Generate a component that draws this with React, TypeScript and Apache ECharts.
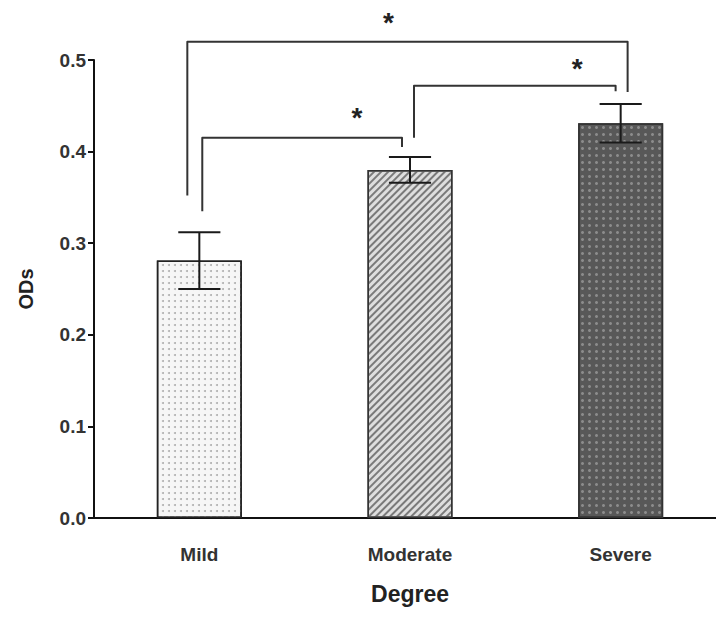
import React, { useEffect, useRef } from "react";
import * as echarts from "echarts";

const categories = ["Mild", "Moderate", "Severe"];
const means = [0.281, 0.38, 0.431];
const sems = [0.031, 0.014, 0.021];
const yMin = 0;
const yMax = 0.5;
const yInterval = 0.1;

// significance brackets: category indices, levels in OD units
const bracketFrom = [0, 0, 1];
const bracketTo = [2, 1, 2];
const bracketLevel = [0.52, 0.415, 0.472];
const bracketLeftEnd = [0.352, 0.335, 0.415];
const bracketRightEnd = [0.465, 0.405, 0.466];
const bracketLeftShift = [-0.057, 0.014, 0.019];
const bracketRightShift = [0.033, -0.038, -0.024];
const starAlong = [0.457, 0.775, 0.81];
const starLevel = [0.541, 0.437, 0.491];
const starText = ["*", "*", "*"];

const FONT = "'Liberation Sans', Arial, sans-serif";

const barStyles = [
  {
    color: "#f6f6f6",
    borderColor: "#222",
    borderWidth: 1.5,
    decal: {
      symbol: "circle",
      symbolSize: 1,
      color: "#b0b0b0",
      dashArrayX: [2, 4],
      dashArrayY: [2, 4],
      rotation: 0,
    },
  },
  {
    color: "#dedede",
    borderColor: "#333",
    borderWidth: 1.5,
    decal: {
      symbol: "rect",
      symbolSize: 1,
      color: "#7a7a7a",
      dashArrayX: [1, 0],
      dashArrayY: [2, 2.5],
      rotation: -Math.PI / 4,
    },
  },
  {
    color: "#585858",
    borderColor: "#333",
    borderWidth: 1.5,
    decal: {
      symbol: "circle",
      symbolSize: 1,
      color: "#8c8c8c",
      dashArrayX: [2.4, 3.6],
      dashArrayY: [2.4, 3.6],
      rotation: 0,
    },
  },
];

export default function App() {
  const ref = useRef<HTMLDivElement>(null);
  useEffect(() => {
    if (!ref.current) return;
    const chart = echarts.init(ref.current, null, { renderer: "svg" });
    const option: any = {
      animation: false,
      backgroundColor: "#ffffff",
      grid: {
        left: 94,
        width: 632,
        top: 60,
        bottom: 117,
        containLabel: false,
        outerBoundsMode: "none",
      },
      xAxis: {
        type: "category",
        data: categories,
        name: "Degree",
        nameLocation: "middle",
        nameGap: 64,
        nameTextStyle: { fontFamily: FONT, fontWeight: "bold", fontSize: 23, color: "#222" },
        axisLine: { lineStyle: { color: "#111", width: 2 } },
        axisTick: { alignWithLabel: true, length: 6, lineStyle: { color: "#111", width: 2 } },
        axisLabel: { fontFamily: FONT, fontWeight: "bold", fontSize: 19, color: "#333", margin: 27 },
        splitLine: { show: false },
      },
      yAxis: {
        type: "value",
        min: yMin,
        max: yMax,
        interval: yInterval,
        name: "ODs",
        nameLocation: "middle",
        nameGap: 58,
        nameTextStyle: { fontFamily: FONT, fontWeight: "bold", fontSize: 20, color: "#222" },
        axisLine: { show: true, lineStyle: { color: "#111", width: 2 } },
        axisTick: { show: true, length: 6, lineStyle: { color: "#111", width: 2 } },
        axisLabel: {
          fontFamily: FONT,
          fontWeight: "bold",
          fontSize: 19,
          color: "#333",
          margin: 8,
          formatter: (v: number) => v.toFixed(1),
        },
        splitLine: { show: false },
      },
      series: [
        {
          type: "bar",
          barWidth: 85,
          data: means.map((m, i) => ({ value: m, itemStyle: barStyles[i] })),
          z: 2,
        },
        {
          type: "custom",
          z: 5,
          clip: false,
          data: means.map((m, i) => [i, m, sems[i]]),
          encode: { x: 0, y: 1 },
          renderItem: (params: any, api: any) => {
            const x = api.value(0);
            const m = api.value(1);
            const e = api.value(2);
            const top = api.coord([x, m + e]);
            const bot = api.coord([x, m - e]);
            const half = api.size([1, 0])[0] * 0.1;
            const st = { stroke: "#1a1a1a", lineWidth: 2 };
            return {
              type: "group",
              children: [
                { type: "line", shape: { x1: top[0], y1: top[1], x2: bot[0], y2: bot[1] }, style: st },
                { type: "line", shape: { x1: top[0] - half, y1: top[1], x2: top[0] + half, y2: top[1] }, style: st },
                { type: "line", shape: { x1: bot[0] - half, y1: bot[1], x2: bot[0] + half, y2: bot[1] }, style: st },
              ],
            };
          },
        },
        {
          type: "custom",
          z: 6,
          clip: false,
          data: bracketFrom.map((f, i) => [f, bracketLevel[i]]),
          encode: { x: 0, y: 1 },
          renderItem: (params: any, api: any) => {
            const i = params.dataIndex;
            const band = api.size([1, 0])[0];
            const xl = api.coord([bracketFrom[i], 0])[0] + bracketLeftShift[i] * band;
            const xr = api.coord([bracketTo[i], 0])[0] + bracketRightShift[i] * band;
            const yl = api.coord([0, bracketLevel[i]])[1];
            const yLeft = api.coord([0, bracketLeftEnd[i]])[1];
            const yRight = api.coord([0, bracketRightEnd[i]])[1];
            const sx = xl + (xr - xl) * starAlong[i];
            const sy = api.coord([0, starLevel[i]])[1];
            return {
              type: "group",
              children: [
                {
                  type: "polyline",
                  shape: { points: [[xl, yLeft], [xl, yl], [xr, yl], [xr, yRight]] },
                  style: { stroke: "#333", lineWidth: 2, fill: "none", lineJoin: "round" },
                },
                {
                  type: "text",
                  x: sx,
                  y: sy,
                  style: {
                    text: starText[i],
                    font: `bold 28px ${FONT}`,
                    fill: "#222",
                    align: "center",
                    verticalAlign: "middle",
                  },
                },
              ],
            };
          },
        },
      ],
    };
    chart.setOption(option);
    return () => chart.dispose();
  }, []);
  return (
    <div
      ref={ref}
      style={{ position: "fixed", left: 0, top: 0, width: 716, height: 635, background: "#fff" }}
    />
  );
}
